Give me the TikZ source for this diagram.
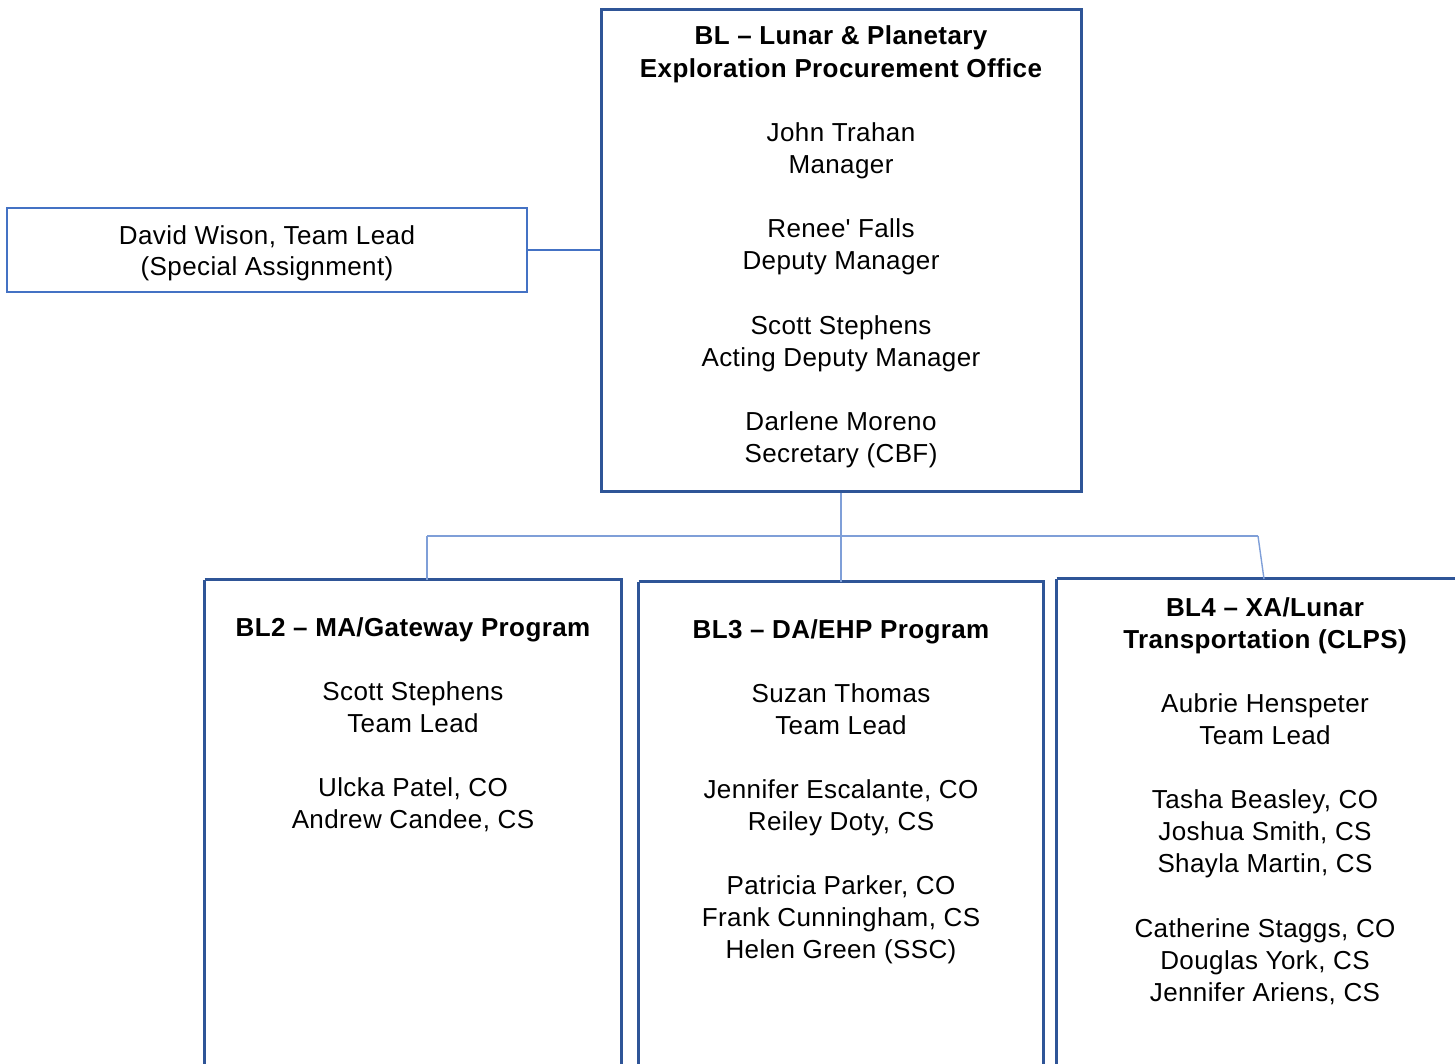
\documentclass[tikz,border=0pt]{standalone}
\usepackage{fontspec}
\setmainfont{Liberation Sans}[LetterSpace=1.5]
\definecolor{boxdark}{HTML}{2F5597}
\definecolor{boxmid}{HTML}{4472C4}
\definecolor{linelight}{HTML}{7F9FD8}
\begin{document}
\begin{tikzpicture}[x=0.5pt,y=-0.5pt,
  mainbox/.style={draw=boxdark,line width=1.5pt,fill=none},
  sidebox/.style={draw=boxmid,line width=1pt},
  conn/.style={draw=linelight,line width=0.7pt},
  sideconn/.style={draw=boxmid,line width=0.8pt},
  txt/.style={anchor=base,inner sep=0pt,font=\fontsize{13pt}{16pt}\selectfont},
  ttl/.style={txt,font=\fontsize{13pt}{16pt}\selectfont\bfseries}]
\useasboundingbox (0,0) rectangle (1455,1064);
\clip (0,0) rectangle (1455,1064);
% boxes
\node[mainbox,inner sep=0pt,minimum width=240pt,minimum height=240.5pt] (main) at (841,250.5) {};
\node[sidebox,inner sep=0pt,minimum width=260pt,minimum height=42pt] (side) at (267,250) {};
\node[inner sep=0pt,minimum width=208pt,minimum height=260pt] (bl2) at (413,840) {};
\node[inner sep=0pt,minimum width=202pt,minimum height=260pt] (bl3) at (841,842) {};
\node[inner sep=0pt,minimum width=230pt,minimum height=260pt] (bl4) at (1287,839) {};
\draw[mainbox] (bl2.north west) -- (bl2.north east) -- (bl2.south east) (bl2.north west) -- (bl2.south west);
\draw[mainbox] (bl3.north west) -- (bl3.north east) -- (bl3.south east) (bl3.north west) -- (bl3.south west);
\draw[mainbox] (bl4.north west) -- (bl4.north east) (bl4.north west) -- (bl4.south west);
% connectors
\coordinate (j2) at (427,536);
\coordinate (j4) at (1258,536);
\draw[sideconn] (side.east) -- (main.west |- side.east);
\draw[conn] (main.south) -- (bl3.north);
\draw[conn] (j2) -- (j4);
\draw[conn] (j2) -- (j2 |- bl2.north);
\draw[conn] (j4) -- (1264,579);
% texts
\foreach \t/\y [count=\i] in {{BL -- Lunar \& Planetary}/45,{Exploration Procurement Office}/78}
  \node[ttl] (mt\i) at (841,\y) {\t};
\foreach \t/\y [count=\i] in {{John Trahan}/142,{Manager}/174,{Renee\textquotesingle\ Falls}/238,{Deputy Manager}/270,{Scott Stephens}/334,{Acting Deputy Manager}/366,{Darlene Moreno}/430,{Secretary (CBF)}/462}
  \node[txt] (m\i) at (841,\y) {\t};
\foreach \t/\y [count=\i] in {{David Wison, Team Lead}/244,{(Special Assignment)}/276}
  \node[txt] (s\i) at (267,\y) {\t};
\node[ttl] (b2t) at (413,636) {BL2 -- MA/Gateway Program};
\foreach \t/\y [count=\i] in {{Scott Stephens}/700,{Team Lead}/732,{Ulcka Patel, CO}/796,{Andrew Candee, CS}/828}
  \node[txt] (b2-\i) at (413,\y) {\t};
\node[ttl] (b3t) at (841,638) {BL3 -- DA/EHP Program};
\foreach \t/\y [count=\i] in {{Suzan Thomas}/702,{Team Lead}/734,{Jennifer Escalante, CO}/798,{Reiley Doty, CS}/830,{Patricia Parker, CO}/894,{Frank Cunningham, CS}/926,{Helen Green (SSC)}/958}
  \node[txt] (b3-\i) at (841,\y) {\t};
\foreach \t/\y [count=\i] in {{BL4 -- XA/Lunar}/616,{Transportation (CLPS)}/648}
  \node[ttl] (b4t\i) at (1265,\y) {\t};
\foreach \t/\y [count=\i] in {{Aubrie Henspeter}/712,{Team Lead}/744,{Tasha Beasley, CO}/808,{Joshua Smith, CS}/840,{Shayla Martin, CS}/872,{Catherine Staggs, CO}/937,{Douglas York, CS}/969,{Jennifer Ariens, CS}/1001}
  \node[txt] (b4-\i) at (1265,\y) {\t};
\end{tikzpicture}
\end{document}
